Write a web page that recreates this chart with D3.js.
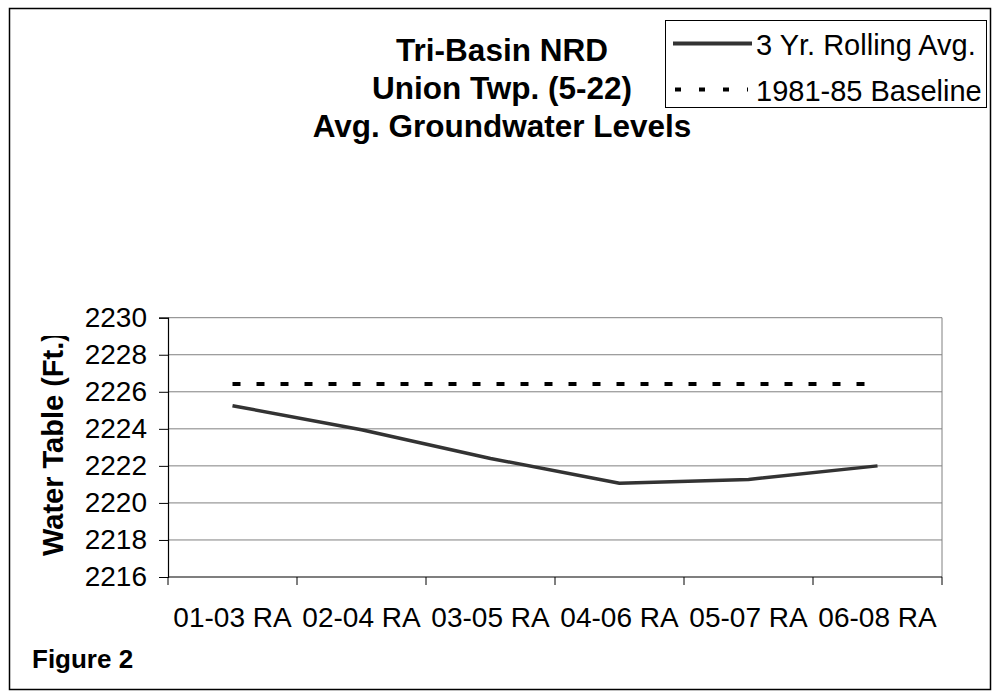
<!DOCTYPE html>
<html>
<head>
<meta charset="utf-8">
<script src="https://cdn.jsdelivr.net/npm/d3@7"></script>
<style>
  html, body { margin: 0; padding: 0; background: #fff; }
  svg { display: block; font-family: "Liberation Sans", Arial, sans-serif; }
</style>
</head>
<body>
<svg id="chart" width="995" height="693"></svg>
<script>
// ---- data ----
const categories = ["01-03 RA", "02-04 RA", "03-05 RA", "04-06 RA", "05-07 RA", "06-08 RA"];
const rollingAvg = [2225.25, 2223.95, 2222.4, 2221.06, 2221.27, 2222.0];
const baseline = [2226.42, 2226.42, 2226.42, 2226.42, 2226.42, 2226.42];
const yTicks = [2216, 2218, 2220, 2222, 2224, 2226, 2228, 2230];
const titleLines = ["Tri-Basin NRD", "Union Twp. (5-22)", "Avg. Groundwater Levels"];
const legendLabels = ["3 Yr. Rolling Avg.", "1981-85 Baseline"];
const yAxisTitle = "Water Table (Ft.)";
const figureLabel = "Figure 2";

// ---- layout ----
const svg = d3.select("#chart");
const plot = { left: 168, right: 942, top: 317.7, bottom: 577 };

const x = d3.scaleBand().domain(categories).range([plot.left, plot.right]).padding(0);
const y = d3.scaleLinear().domain([2216, 2230]).range([plot.bottom, plot.top]);
const cx = d => x(d) + x.bandwidth() / 2;

// outer border
svg.append("rect")
  .attr("x", 9.5).attr("y", 8.5).attr("width", 981).attr("height", 681)
  .attr("fill", "#fff").attr("stroke", "#000").attr("stroke-width", 1.5);

// title
svg.append("g").selectAll("text").data(titleLines).join("text")
  .attr("x", 502).attr("y", (d, i) => 61 + i * 38)
  .attr("text-anchor", "middle")
  .attr("font-size", 31.5).attr("font-weight", "bold").attr("fill", "#000")
  .text(d => d);

// gridlines
svg.append("g").selectAll("line").data(yTicks.filter(t => t !== 2216)).join("line")
  .attr("x1", plot.left).attr("x2", plot.right)
  .attr("y1", d => y(d)).attr("y2", d => y(d))
  .attr("stroke", "#808080").attr("stroke-width", 1);

// right border of plot
svg.append("line")
  .attr("x1", plot.right).attr("x2", plot.right)
  .attr("y1", plot.top).attr("y2", plot.bottom)
  .attr("stroke", "#808080").attr("stroke-width", 1);

// y axis
const yAxis = d3.axisLeft(y).tickValues(yTicks).tickSize(9).tickPadding(12)
  .tickFormat(d3.format("d"));
const gy = svg.append("g").attr("transform", `translate(${plot.left},0)`).call(yAxis);
gy.select(".domain").attr("stroke", "#000").attr("stroke-width", 1.2);
gy.selectAll(".tick line").attr("stroke", "#000");
gy.selectAll(".tick text").attr("font-size", 28).attr("fill", "#000")
  .attr("font-family", "Liberation Sans, Arial, sans-serif");

// x axis (labels at centers, ticks at boundaries)
const xAxis = d3.axisBottom(x).tickSize(0).tickPadding(30);
const gx = svg.append("g").attr("transform", `translate(0,${plot.bottom})`).call(xAxis);
gx.select(".domain").remove();
gx.selectAll(".tick text").attr("font-size", 28).attr("fill", "#000")
  .attr("font-family", "Liberation Sans, Arial, sans-serif");

svg.append("line")
  .attr("x1", plot.left).attr("x2", plot.right)
  .attr("y1", y(2216)).attr("y2", y(2216))
  .attr("stroke", "#000").attr("stroke-width", 1.2);

const boundaries = categories.map(c => x(c)).concat([x.range()[1]]);
svg.append("g").selectAll("line").data(boundaries).join("line")
  .attr("x1", d => d).attr("x2", d => d)
  .attr("y1", plot.bottom).attr("y2", plot.bottom + 8)
  .attr("stroke", "#000").attr("stroke-width", 1);

// baseline (dashed)
const line = d3.line().x((d, i) => cx(categories[i])).y(d => y(d));
svg.append("path").datum(baseline)
  .attr("d", line).attr("fill", "none")
  .attr("stroke", "#000").attr("stroke-width", 4)
  .attr("stroke-dasharray", "8,16");

// rolling average
svg.append("path").datum(rollingAvg)
  .attr("d", line).attr("fill", "none")
  .attr("stroke", "#333").attr("stroke-width", 3.5)
  .attr("stroke-linejoin", "round");

// y axis title (clipped at top like the reference)
svg.append("clipPath").attr("id", "ytclip")
  .append("rect").attr("x", 0).attr("y", 336).attr("width", 130).attr("height", 320);
svg.append("g").attr("clip-path", "url(#ytclip)")
  .append("text")
  .attr("transform", "translate(63,556) rotate(-90)")
  .attr("text-anchor", "start")
  .attr("font-size", 29).attr("font-weight", "bold").attr("fill", "#000")
  .text(yAxisTitle);

// legend
const lg = svg.append("g");
lg.append("rect").attr("x", 665.5).attr("y", 20.5).attr("width", 321).attr("height", 87)
  .attr("fill", "#fff").attr("stroke", "#000").attr("stroke-width", 1);
const legendY = [43.5, 89.5];
lg.append("line").attr("x1", 673).attr("x2", 752).attr("y1", legendY[0]).attr("y2", legendY[0])
  .attr("stroke", "#333").attr("stroke-width", 4);
lg.append("line").attr("x1", 675).attr("x2", 748).attr("y1", legendY[1]).attr("y2", legendY[1])
  .attr("stroke", "#000").attr("stroke-width", 4).attr("stroke-dasharray", "6,18");
lg.selectAll("text").data(legendLabels).join("text")
  .attr("x", 756).attr("y", (d, i) => legendY[i] + 11)
  .attr("font-size", 29).attr("fill", "#000")
  .text(d => d);

// figure label
svg.append("text").attr("x", 32).attr("y", 668)
  .attr("font-size", 26).attr("font-weight", "bold").attr("fill", "#000")
  .text(figureLabel);
</script>
</body>
</html>
